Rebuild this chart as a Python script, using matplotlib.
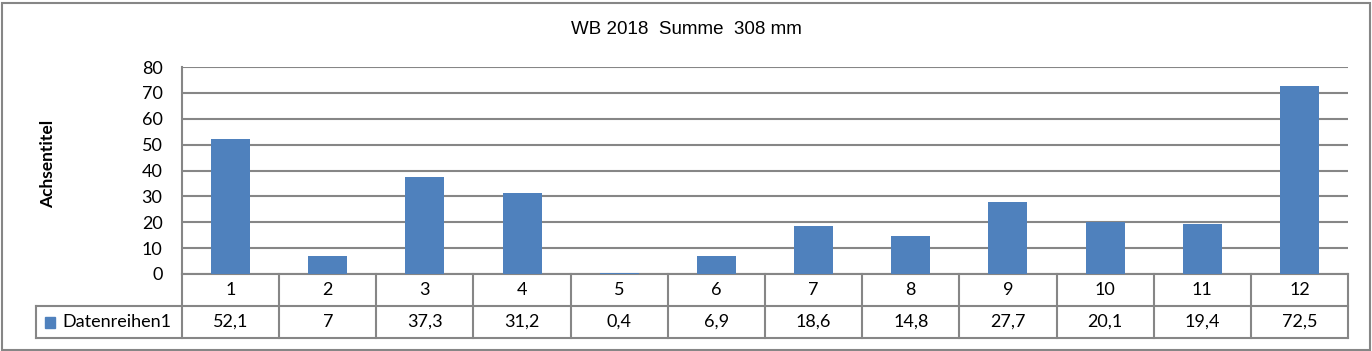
import matplotlib
matplotlib.use('Agg')
import matplotlib.pyplot as plt
import matplotlib.transforms as mtransforms
from matplotlib.patches import Rectangle

# Daten
monate = ['1', '2', '3', '4', '5', '6', '7', '8', '9', '10', '11', '12']
werte = [52.1, 7, 37.3, 31.2, 0.4, 6.9, 18.6, 14.8, 27.7, 20.1, 19.4, 72.5]
werte_text = ['52,1', '7', '37,3', '31,2', '0,4', '6,9', '18,6', '14,8', '27,7', '20,1', '19,4', '72,5']
reihe = 'Datenreihen1'
titel = 'WB 2018  Summe  308 mm'

W, H = 1372, 351
grau = '#868686'
blau = '#4F81BD'
lw = 1.5
schrift = 'Lato'
fs = 13

fig = plt.figure(figsize=(W / 100, H / 100), dpi=100)

# Rahmen um das Diagramm
fig.patches.append(Rectangle((1.5 / W, 1.5 / H), (W - 4) / W, (H - 4) / H,
                             transform=fig.transFigure, fill=False,
                             edgecolor=grau, linewidth=1.5))

# Zeichenbereich in Pixeln
x0, x1 = 182, 1348
y_top, y_bot = 67, 274
ax = fig.add_axes([x0 / W, (H - y_bot) / H, (x1 - x0) / W, (y_bot - y_top) / H])

ax.bar(range(len(werte)), werte, width=0.4, color=blau, zorder=3)
ax.set_xlim(-0.5, len(werte) - 0.5)
ax.set_ylim(0, 80)
ax.set_yticks(range(0, 81, 10))
ax.yaxis.grid(True, color=grau, linewidth=lw)
ax.set_axisbelow(True)
ax.set_xticks([])
ax.tick_params(axis='y', length=0, pad=14, labelsize=fs)
for lab in ax.get_yticklabels():
    lab.set_fontfamily(schrift)
for s in ['top', 'right', 'bottom']:
    ax.spines[s].set_visible(False)
ax.spines['left'].set_color(grau)
ax.spines['left'].set_linewidth(lw)

# Datentabelle unter dem Diagramm
ph = y_bot - y_top
zeile = 32 / ph
links = (36 - x0) / (x1 - x0)
blend = mtransforms.blended_transform_factory(ax.transData, ax.transAxes)
n = len(werte)

linie = dict(color=grau, linewidth=lw, clip_on=False, solid_capstyle='projecting')
ax.plot([0, 1], [0, 0], transform=ax.transAxes, **linie)
ax.plot([links, 1], [-zeile, -zeile], transform=ax.transAxes, **linie)
ax.plot([links, 1], [-2 * zeile, -2 * zeile], transform=ax.transAxes, **linie)
ax.plot([0, 0], [-2 * zeile, 0], transform=ax.transAxes, **linie)
ax.plot([links, links], [-2 * zeile, -zeile], transform=ax.transAxes, **linie)
for i in range(n):
    ax.plot([i + 0.5, i + 0.5], [-2 * zeile, 0], transform=blend, **linie)

for i in range(n):
    ax.text(i, -0.5 * zeile, monate[i], transform=blend, ha='center', va='center',
            fontsize=fs, family=schrift)
    ax.text(i, -1.5 * zeile, werte_text[i], transform=blend, ha='center', va='center',
            fontsize=fs, family=schrift)

# Legendenschlüssel
ax.add_patch(Rectangle(((45 - x0) / (x1 - x0), -1.5 * zeile - 5.5 / ph), 10 / (x1 - x0), 11 / ph,
                       transform=ax.transAxes, color=blau, clip_on=False))
ax.text((62 - x0) / (x1 - x0), -1.5 * zeile, reihe, transform=ax.transAxes,
        ha='left', va='center', fontsize=fs, family=schrift)

# Titel und Achsentitel
fig.text(0.5, (H - 30) / H, titel, ha='center', va='center', fontsize=13.5,
         family='Liberation Sans')
fig.text(48 / W, (H - 164) / H, 'Achsentitel', rotation=90, ha='center', va='center',
         fontsize=12.5, fontweight='bold', family=schrift)

fig.savefig('out.png', dpi=100)
